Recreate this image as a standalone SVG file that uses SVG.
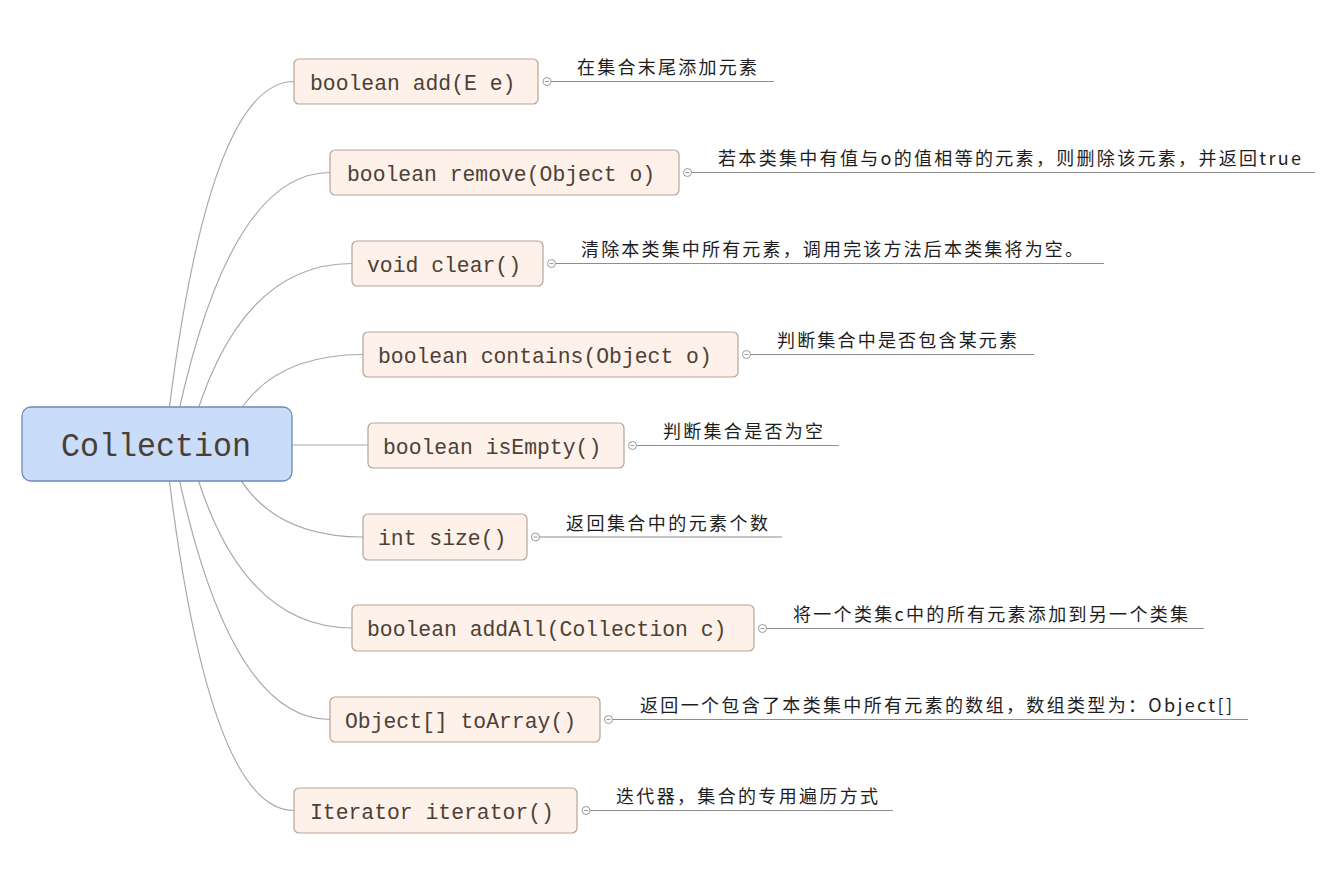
<svg xmlns="http://www.w3.org/2000/svg" xmlns:xlink="http://www.w3.org/1999/xlink" width="1322" height="896" viewBox="0 0 1322 896">
<style>
.conn{fill:none;stroke:#a8a8a8;stroke-width:1.2}
.root{fill:#c9dcf9;stroke:#6d89b6;stroke-width:1.3}
.rtext{font-family:"Liberation Mono",monospace;font-size:34px;fill:#4a3f35}
.box{fill:#fdf1ea;stroke:#b5a597;stroke-width:1.2}
.ntext{font-family:"Liberation Mono",monospace;font-size:21.4px;fill:#4e4035}
.lline{stroke:#8e8e8e;stroke-width:1.1}
.ltext{font-family:"Noto Sans CJK SC","Noto Sans",sans-serif;font-size:18px;fill:#1e1e1e}
.coll{fill:#fff;stroke:#9a9a9a;stroke-width:1}
.minus{stroke:#9a9a9a;stroke-width:1}
</style>
<defs>
<g id="collapse"><circle class="coll" cx="0" cy="0" r="4"/><line class="minus" x1="-2" y1="0" x2="2" y2="0"/></g>
</defs>
<rect width="1322" height="896" fill="#ffffff"/>
<g id="connectors">
<path class="conn" d="M165,444 Q206,81.5 294,81.5"/>
<path class="conn" d="M172,444 Q225,172.5 330,172.5"/>
<path class="conn" d="M188,444 Q234,263.5 352,263.5"/>
<path class="conn" d="M224,444 Q254,354.5 363,354.5"/>
<path class="conn" d="M290,445 L368,445"/>
<path class="conn" d="M224,444 Q254,537 363,537"/>
<path class="conn" d="M188,444 Q234,628 352,628"/>
<path class="conn" d="M172,444 Q225,719.5 330,719.5"/>
<path class="conn" d="M165,444 Q206,810.5 294,810.5"/>
</g>
<g id="root">
<rect class="root" x="22" y="407" width="270" height="74" rx="9"/>
<text class="rtext" x="61" y="456" textLength="190" lengthAdjust="spacingAndGlyphs">Collection</text>
</g>
<g id="n1">
<rect class="box" x="294" y="59" width="244" height="45" rx="5"/>
<text class="ntext" x="310" y="89.5">boolean add(E e)</text>
<use xlink:href="#collapse" x="547" y="81.5"/>
<line class="lline" x1="551" y1="81.5" x2="774" y2="81.5"/>
<text class="ltext" x="577" y="74" textLength="180" lengthAdjust="spacing">在集合末尾添加元素</text>
</g>
<g id="n2">
<rect class="box" x="330" y="150" width="349" height="45" rx="5"/>
<text class="ntext" x="347" y="180.5">boolean remove(Object o)</text>
<use xlink:href="#collapse" x="687.5" y="172.5"/>
<line class="lline" x1="691.5" y1="172.5" x2="1315" y2="172.5"/>
<text class="ltext" x="718" y="165" textLength="583" lengthAdjust="spacing">若本类集中有值与o的值相等的元素，则删除该元素，并返回true</text>
</g>
<g id="n3">
<rect class="box" x="352" y="241" width="191" height="45" rx="5"/>
<text class="ntext" x="367" y="271.5">void clear()</text>
<use xlink:href="#collapse" x="551.5" y="263.5"/>
<line class="lline" x1="555.5" y1="263.5" x2="1104" y2="263.5"/>
<text class="ltext" x="581" y="256" textLength="502" lengthAdjust="spacing">清除本类集中所有元素，调用完该方法后本类集将为空。</text>
</g>
<g id="n4">
<rect class="box" x="363" y="332" width="375" height="45" rx="5"/>
<text class="ntext" x="378" y="362.5">boolean contains(Object o)</text>
<use xlink:href="#collapse" x="746.5" y="354.5"/>
<line class="lline" x1="750.5" y1="354.5" x2="1034" y2="354.5"/>
<text class="ltext" x="777" y="347" textLength="240" lengthAdjust="spacing">判断集合中是否包含某元素</text>
</g>
<g id="n5">
<rect class="box" x="368" y="423" width="256" height="45" rx="5"/>
<text class="ntext" x="383" y="453.5">boolean isEmpty()</text>
<use xlink:href="#collapse" x="632.5" y="445.5"/>
<line class="lline" x1="636.5" y1="445.5" x2="839" y2="445.5"/>
<text class="ltext" x="663" y="438" textLength="160" lengthAdjust="spacing">判断集合是否为空</text>
</g>
<g id="n6">
<rect class="box" x="363" y="514" width="164" height="46" rx="5"/>
<text class="ntext" x="378" y="545">int size()</text>
<use xlink:href="#collapse" x="535.5" y="537"/>
<line class="lline" x1="539.5" y1="537" x2="782" y2="537"/>
<text class="ltext" x="566" y="529.5" textLength="202" lengthAdjust="spacing">返回集合中的元素个数</text>
</g>
<g id="n7">
<rect class="box" x="352" y="605" width="402" height="46" rx="5"/>
<text class="ntext" x="367" y="636">boolean addAll(Collection c)</text>
<use xlink:href="#collapse" x="762.5" y="628.5"/>
<line class="lline" x1="766.5" y1="628.5" x2="1204" y2="628.5"/>
<text class="ltext" x="793" y="621" textLength="395" lengthAdjust="spacing">将一个类集c中的所有元素添加到另一个类集</text>
</g>
<g id="n8">
<rect class="box" x="330" y="697" width="270" height="45" rx="5"/>
<text class="ntext" x="345" y="727.5">Object[] toArray()</text>
<use xlink:href="#collapse" x="608.5" y="719.5"/>
<line class="lline" x1="612.5" y1="719.5" x2="1248" y2="719.5"/>
<text class="ltext" x="640" y="712" textLength="592" lengthAdjust="spacing">返回一个包含了本类集中所有元素的数组，数组类型为：Object[]</text>
</g>
<g id="n9">
<rect class="box" x="294" y="788" width="283" height="45" rx="5"/>
<text class="ntext" x="310" y="818.5">Iterator iterator()</text>
<use xlink:href="#collapse" x="586" y="810.5"/>
<line class="lline" x1="590" y1="810.5" x2="893" y2="810.5"/>
<text class="ltext" x="616" y="803" textLength="262" lengthAdjust="spacing">迭代器，集合的专用遍历方式</text>
</g>
</svg>
